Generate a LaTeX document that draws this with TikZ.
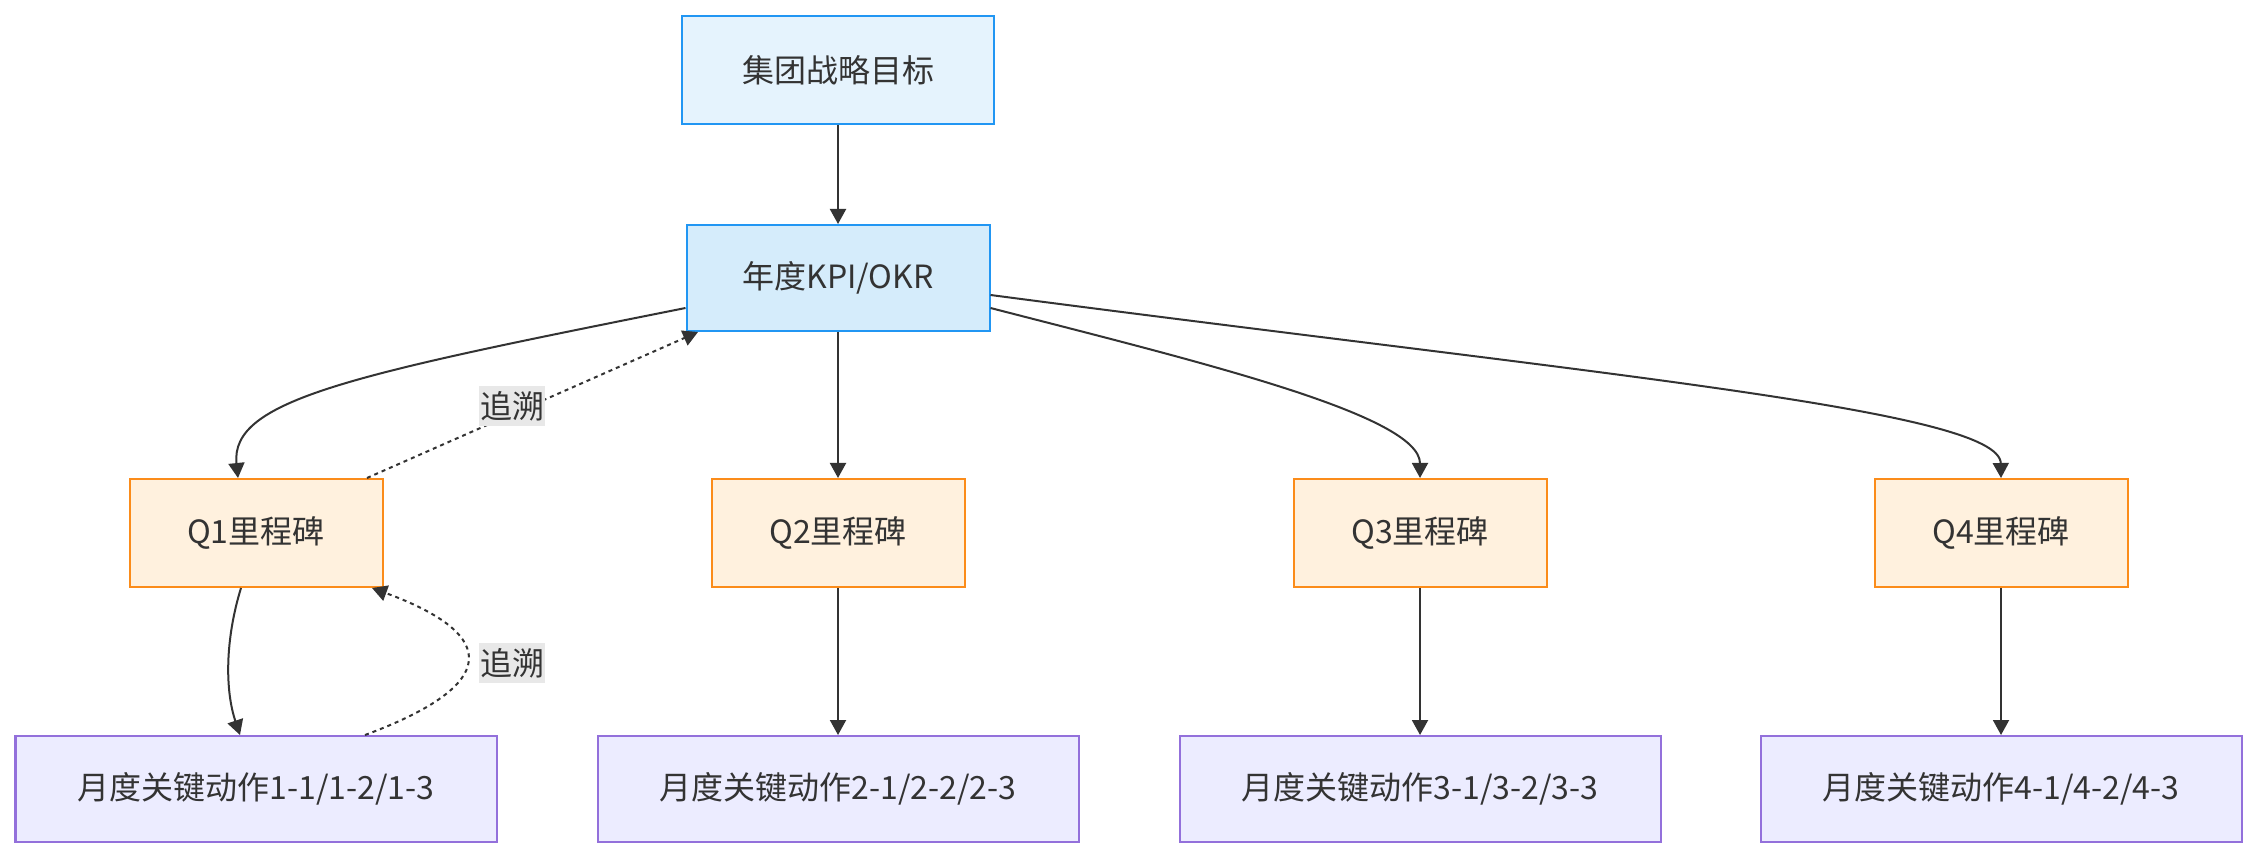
\documentclass[tikz,border=0pt]{standalone}
\usepackage{fontspec}
\setmainfont{Noto Sans CJK SC}
\usetikzlibrary{arrows.meta}
\definecolor{ink}{HTML}{333333}
\definecolor{goalfill}{HTML}{E5F3FD}
\definecolor{kpifill}{HTML}{D5ECFB}
\definecolor{blueline}{HTML}{2196F3}
\definecolor{qfill}{HTML}{FFF1DE}
\definecolor{qline}{HTML}{FB8C1A}
\definecolor{mfill}{HTML}{ECECFF}
\definecolor{mline}{HTML}{9370DB}
\definecolor{taggray}{HTML}{E8E8E8}
\begin{document}
\begin{tikzpicture}[x=50pt, y=-50pt, >={Triangle[length=7.5pt,width=8pt]}, font=\fontsize{16}{19}\selectfont]
      \tikzset{box/.style={draw, line width=1pt, minimum height=54pt, text=ink, inner sep=0pt},
        goalbox/.style={box, fill=goalfill, draw=blueline, minimum width=156pt},
        kpibox/.style={box, fill=kpifill, draw=blueline, minimum width=151.5pt, minimum height=53pt},
        qbox/.style={box, fill=qfill, draw=qline, minimum width=126.5pt},
        mbox/.style={box, fill=mfill, draw=mline, minimum width=240.5pt, minimum height=53pt},
        link/.style={->, draw=ink, line width=1pt},
        trace/.style={link, dash pattern=on 2pt off 2pt},
        tag/.style={fill=taggray, text=ink, inner xsep=0.5pt, inner ysep=2.5pt}}
      \useasboundingbox (0,0) rectangle (22.57,8.60);
      \node[goalbox] (goal) at (8.38,0.70) {集团战略目标};
      \node[kpibox] (kpi) at (8.38,2.78) {年度KPI/OKR};
      \node[qbox] (q1) at (2.56,5.33) {Q1里程碑};
      \node[qbox] (q2) at (8.38,5.33) {Q2里程碑};
      \node[qbox] (q3) at (14.20,5.33) {Q3里程碑};
      \node[qbox] (q4) at (20.01,5.33) {Q4里程碑};
      \node[mbox] (m1) at (2.56,7.89) {月度关键动作1-1/1-2/1-3};
      \node[mbox] (m2) at (8.38,7.89) {月度关键动作2-1/2-2/2-3};
      \node[mbox] (m3) at (14.20,7.89) {月度关键动作3-1/3-2/3-3};
      \node[mbox] (m4) at (20.01,7.89) {月度关键动作4-1/4-2/4-3};
      \draw[link] (goal) -- (kpi);
      \draw[link] ([yshift=-15pt]kpi.west) .. controls (3.5,3.75) and (2.3,4.0) .. ([xshift=-9pt]q1.north);
      \draw[link] (kpi) -- (q2);
      \draw[link] ([yshift=-15pt]kpi.east) .. controls (12.0,3.62) and (14.2,4.15) .. (q3.north);
      \draw[link] ([yshift=-8.5pt]kpi.east) .. controls (16.0,3.75) and (20.0,4.1) .. (q4.north);
      \draw[link] ([xshift=-7.5pt]q1.south) .. controls (2.25,6.4) and (2.25,6.9) .. ([xshift=-8pt]m1.north);
      \draw[link] (q2) -- (m2);
      \draw[link] (q3) -- (m3);
      \draw[link] (q4) -- (m4);
      % trace back upwards
      \draw[trace] ([xshift=55.5pt]q1.north) -- ([xshift=-70pt]kpi.south);
      \draw[trace] ([xshift=54.5pt]m1.north) .. controls (5.0,6.85) and (5.0,6.35) .. ([xshift=58pt]q1.south);
      \node[tag] (up1) at (5.12,4.06) {追溯};
      \node[tag] (up2) at (5.12,6.63) {追溯};
    \end{tikzpicture}
\end{document}
